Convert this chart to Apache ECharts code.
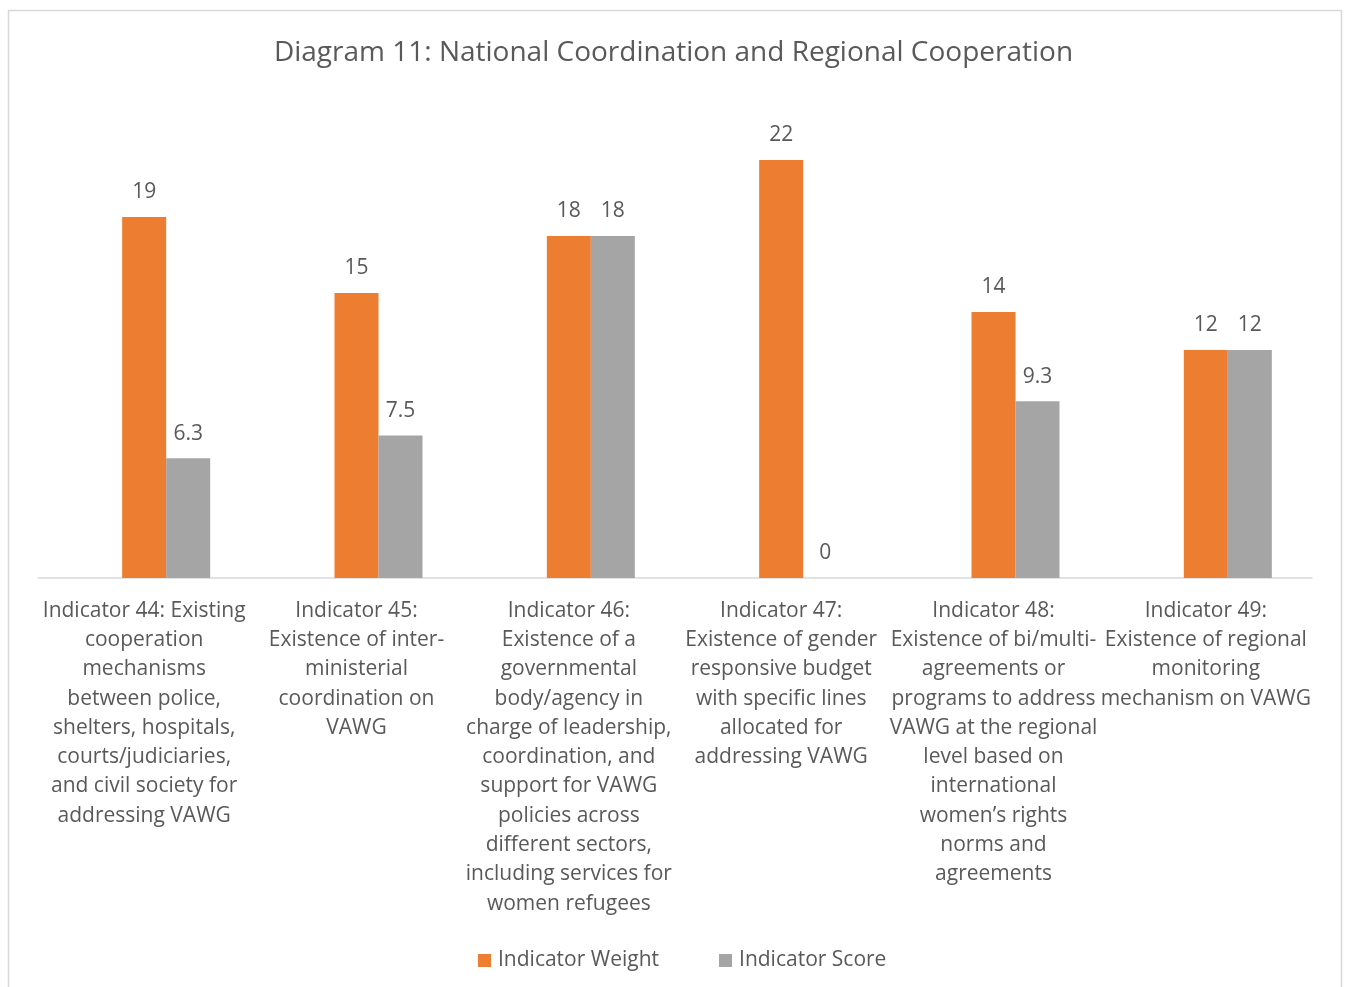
<!DOCTYPE html>
<html>
<head>
<meta charset="utf-8">
<script src="https://cdn.jsdelivr.net/npm/echarts@6/dist/echarts.min.js"></script>
<style>
  html, body { margin: 0; padding: 0; background: #fff; }
  #main { width: 1347px; height: 987px; }
</style>
</head>
<body>
<div id="main"></div>
<script>
  // categories (line breaks as in the original)
  var categories = [
    'Indicator 44: Existing\ncooperation\nmechanisms\nbetween police,\nshelters, hospitals,\ncourts/judiciaries,\nand civil society for\naddressing VAWG',
    'Indicator 45:\nExistence of inter-\nministerial\ncoordination on\nVAWG',
    'Indicator 46:\nExistence of a\ngovernmental\nbody/agency in\ncharge of leadership,\ncoordination, and\nsupport for VAWG\npolicies across\ndifferent sectors,\nincluding services for\nwomen refugees',
    'Indicator 47:\nExistence of gender\nresponsive budget\nwith specific lines\nallocated for\naddressing VAWG',
    'Indicator 48:\nExistence of bi/multi-\nagreements or\nprograms to address\nVAWG at the regional\nlevel based on\ninternational\nwomen\u2019s rights\nnorms and\nagreements',
    'Indicator 49:\nExistence of regional\nmonitoring\nmechanism on VAWG'
  ]
  var weightData = [19, 15, 18, 22, 14, 12]   // Indicator Weight
  var scoreData = [6.3, 7.5, 18, 0, 9.3, 12]  // Indicator Score
  var emptyData = [null, null, null, null, null, null] // empty slot in the original chart

  var txt = '#595959'
  var font = '"Open Sans", Lato, sans-serif'

  var chart = echarts.init(document.getElementById('main'))
  chart.setOption({
    textStyle: { fontFamily: font },
    title: {
      text: 'Diagram 11: National Coordination and Regional Cooperation',
      left: 'center',
      top: 34,
      textStyle: { color: txt, fontSize: 28, fontWeight: 'normal', fontFamily: font }
    },
    graphic: [
      {
        type: 'rect',
        shape: { x: 8.5, y: 10.5, width: 1333, height: 1000 },
        style: { fill: 'none', stroke: '#d9d9d9', lineWidth: 1.5 },
        silent: true
      }
    ],
    legend: {
      bottom: 16,
      left: 478,
      padding: 0,
      itemWidth: 13,
      itemHeight: 13,
      itemGap: 60,
      icon: 'rect',
      textStyle: { color: txt, fontSize: 21, fontFamily: font, padding: [0, 0, 0, 2] },
      data: ['Indicator Weight', 'Indicator Score']
    },
    grid: {
      left: 38,
      right: 35,
      top: 160,
      bottom: 409,
      containLabel: false
    },
    xAxis: {
      type: 'category',
      data: categories,
      axisTick: { show: false },
      axisLine: { lineStyle: { color: '#d9d9d9', width: 1.5 } },
      axisLabel: {
        interval: 0,
        margin: 18,
        color: txt,
        fontSize: 21,
        lineHeight: 29.3,
        fontFamily: font,
        align: 'center'
      }
    },
    yAxis: {
      type: 'value',
      min: 0,
      max: 22,
      show: false,
      splitLine: { show: false }
    },
    series: [
      {
        name: 'empty',
        type: 'bar',
        data: emptyData,
        barWidth: 44,
        barGap: '0%',
        silent: true
      },
      {
        name: 'Indicator Weight',
        type: 'bar',
        data: weightData,
        barWidth: 44,
        barGap: '0%',
        itemStyle: { color: '#ED7D31' },
        label: { show: true, position: 'top', distance: 14, color: txt, fontSize: 21, fontFamily: font }
      },
      {
        name: 'Indicator Score',
        type: 'bar',
        data: scoreData,
        barWidth: 44,
        barGap: '0%',
        itemStyle: { color: '#A5A5A5' },
        label: { show: true, position: 'top', distance: 14, color: txt, fontSize: 21, fontFamily: font }
      }
    ]
  })
</script>
</body>
</html>
